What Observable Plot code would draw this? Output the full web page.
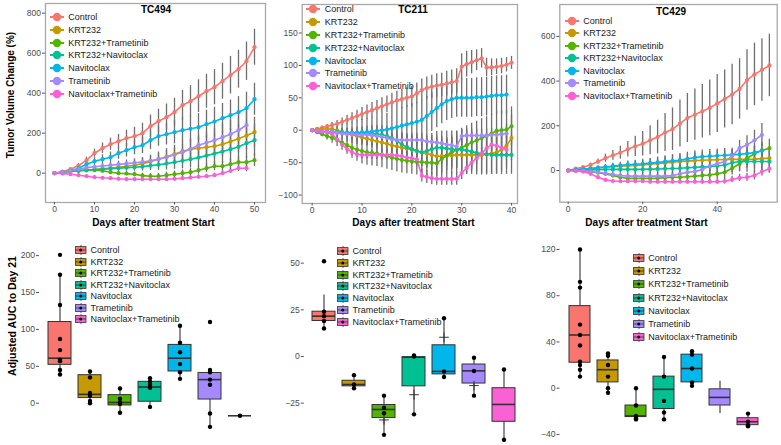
<!DOCTYPE html>
<html><head><meta charset="utf-8">
<script src="https://cdn.jsdelivr.net/npm/d3@7"></script>
<script src="https://cdn.jsdelivr.net/npm/@observablehq/plot@0.6"></script>
<style>
body{margin:0;background:#fff;font-family:"Liberation Sans",Arial,sans-serif;}
#root{position:relative;width:781px;height:445px;overflow:hidden;background:#fff}
</style></head><body><div id="root"></div>
<script>
// ---------- categories ----------
const groups = ["Control","KRT232","KRT232+Trametinib","KRT232+Navitoclax","Navitoclax","Trametinib","Navitoclax+Trametinib"];
const COLORS = ["#F8766D","#C49A00","#53B400","#00C094","#00B6EB","#A58AFF","#FB61D7"];

// ---------- TC494 growth (days every 2) ----------
const days494 = [0,2,4,6,8,10,12,14,16,18,20,22,24,26,28,30,32,34,36,38,40,42,44,46,48,50];
const ctl494 = [0,8,20,38,65,100,125,145,160,175,185,200,235,260,280,305,340,360,385,410,430,460,490,520,560,630];
const krt494 = [0,5,10,12,15,18,22,26,30,35,40,48,58,70,82,95,110,120,125,130,135,145,158,172,188,205];
const kt494  = [0,5,10,15,15,15,12,5,0,-2,-5,-12,-15,-15,-10,-5,0,5,15,25,35,35,45,55,55,65];
const kn494  = [0,5,10,12,15,18,20,22,25,28,30,33,38,42,48,55,62,70,78,88,98,108,120,132,150,165];
const nav494 = [0,5,12,25,45,60,70,80,100,115,130,140,165,185,195,205,215,222,230,245,258,275,290,305,325,370];
const tra494 = [0,5,12,20,28,32,36,40,44,48,52,56,62,70,80,92,105,120,140,152,165,180,195,215,240,null];
const nt494  = [0,-2,-5,-10,-15,-20,-23,-25,-28,-30,-30,-30,-30,-30,-30,-28,-25,-22,-18,-15,-10,0,12,25,25,null];
const ctl494E = [0,3,6,10,15,20,26,30,34,40,45,50,56,60,66,70,74,78,82,85,88,90,94,95,96,90];
const krt494E = [0,2,4,6,8,10,13,15,18,21,25,28,32,36,41,45,50,52,55,57,60,63,66,70,72,75];
const kt494E  = [0,2,3,4,5,6,7,8,9,10,11,12,13,14,15,16,17,18,20,21,22,24,26,28,30,32];
const kn494E  = [0,2,4,6,8,10,12,14,16,18,20,22,25,28,32,36,40,44,48,52,56,60,65,70,75,80];
const nav494E = [0,3,6,10,14,18,22,26,30,34,38,42,46,50,54,58,62,65,68,70,72,74,76,78,80,80];
const tra494E = [0,2,4,6,8,10,12,14,16,18,20,22,25,28,32,36,40,45,50,55,60,65,70,75,80,null];
const nt494E  = [0,1,2,3,4,5,6,7,8,9,10,10,10,10,10,10,10,10,10,10,10,12,14,16,18,null];

// ---------- TC211 growth (daily) ----------
const days211 = [0,1,2,3,4,5,6,7,8,9,10,11,12,13,14,15,16,17,18,19,20,21,22,23,24,25,26,27,28,29,30,31,32,33,34,35,36,37,38,39,40];
const ctl211 = [0,2,4,6,8,10,13,16,19,22,25,28,31,34,37,40,43,46,48,50,52,57,62,65,67,69,70,72,74,76,98,102,105,108,111,97,97,98,99,101,104];
const krt211 = [0,1,2,2,2,0,-3,-5,-7,-9,-11,-13,-15,-17,-19,-21,-23,-25,-27,-28,-30,-32,-34,-36,-38,-40,-40,-39,-39,-38,-38,-38,-38,-38,-38,-37,-36,-34,-30,-24,-12];
const kt211  = [0,-3,-6,-9,-12,-15,-19,-23,-27,-30,-32,-34,-35,-36,-38,-40,-42,-44,-46,-47,-48,-49,-49,-50,-50,-51,-44,-39,-34,-30,-27,-23,-19,-16,-12,-9,-5,-1,0,1,6];
const kn211  = [0,-1,-2,-2,-3,-3,-3,-4,-4,-4,-5,-5,-5,-6,-7,-9,-12,-16,-22,-26,-29,-32,-34,-32,-29,-27,-27,-28,-29,-30,-30,-31,-33,-35,-36,-37,-38,-38,-38,-38,-38];
const nav211 = [0,-1,-2,-3,-3,-4,-4,-4,-4,-4,-3,-3,-2,-1,0,1,3,5,7,9,11,13,16,22,28,34,40,45,48,50,50,50,50,51,51,52,53,54,54,55,null];
const tra211 = [0,-1,-2,-2,-3,-4,-5,-6,-6,-7,-7,-7,-8,-9,-10,-12,-14,-15,-15,-15,-15,-15,-15,-17,-18,-19,-20,-22,-23,-25,-9,-8,-8,-8,-8,-8,-7,-7,-6,-5,null];
const nt211  = [0,-1,-2,-3,-6,-14,-22,-29,-34,-37,-38,-38,-38,-38,-38,-38,-38,-39,-40,-42,-43,-45,-70,-72,-74,-75,-75,-75,-75,-75,-66,-58,-50,-43,-36,-28,-22,-24,-27,-30,null];
const ctl211E = [0,1,2,3,4,5,6,7,8,9,10,11,12,12,13,13,14,14,15,15,16,16,17,17,18,18,18,19,19,19,20,20,18,16,15,14,13,12,12,11,10];
const krt211E = [0,1,2,3,4,5,6,7,8,9,10,11,12,13,14,15,16,17,18,19,20,21,22,23,24,25,26,27,28,29,30,30,30,31,31,32,32,33,33,34,35];
const kt211E  = [0,2,4,6,8,10,12,14,16,18,20,20,20,20,20,20,20,20,20,20,20,20,20,20,20,20,22,24,26,28,30,30,30,30,30,30,30,30,30,30,30];
const kn211E  = [0,1,2,3,4,5,6,7,8,9,10,11,12,13,14,15,16,17,18,19,20,21,22,23,24,25,26,27,28,29,30,30,30,30,30,30,30,30,30,30,30];
const nav211E = [0,2,4,6,8,10,12,14,16,18,20,21,22,23,24,25,26,27,28,29,30,30,30,30,30,30,30,30,30,30,30,30,30,30,30,30,30,30,30,30,null];
const tra211E = [0,1,2,2,3,3,4,4,5,5,6,6,7,7,8,8,9,9,10,10,10,10,10,10,10,10,10,10,10,10,10,10,10,10,10,10,10,10,10,10,null];
const nt211E  = [0,1,2,2,3,3,4,4,5,5,6,6,7,7,8,8,9,9,10,10,10,10,10,10,10,10,10,10,10,10,10,10,10,10,10,10,10,10,10,10,null];

// ---------- TC429 growth (days every 2) ----------
const days429 = [0,2,4,6,8,10,12,14,16,18,20,22,24,26,28,30,32,34,36,38,40,42,44,46,48,50,52,54];
const ctl429 = [0,8,15,25,40,55,68,80,95,108,120,135,150,170,185,210,235,250,265,280,300,320,340,365,405,430,450,470];
const krt429 = [0,3,6,9,12,15,17,19,21,23,25,28,31,34,37,40,42,44,46,47,48,49,50,50,50,51,53,55];
const kt429  = [0,-1,-2,-5,-10,-15,-22,-30,-35,-35,-35,-35,-35,-32,-30,-30,-28,-25,-22,-20,-15,-8,10,30,55,75,90,100];
const kn429  = [0,1,2,3,4,5,5,5,5,5,5,6,7,8,9,10,12,14,16,18,20,25,35,40,40,40,40,40];
const nav429 = [0,3,6,9,12,16,20,23,26,28,30,33,36,40,43,46,52,58,62,64,66,68,70,72,76,80,88,null];
const tra429 = [0,-1,-2,-5,-8,-12,-18,-22,-25,-25,-25,-25,-25,-25,-22,-15,-8,-5,5,20,30,40,65,100,115,135,160,null];
const nt429  = [0,-2,-5,-15,-30,-42,-47,-48,-48,-48,-48,-50,-50,-50,-50,-50,-50,-50,-50,-50,-50,-48,-40,-33,-30,-22,-5,8];
const ctl429E = [0,3,5,8,12,18,22,28,35,45,55,65,75,85,95,105,110,115,120,125,130,130,135,135,135,140,140,140];
const krt429E = [0,2,4,6,8,10,12,14,16,18,20,22,24,26,28,30,32,34,36,38,40,40,40,40,40,40,40,40];
const kt429E  = [0,2,3,4,6,8,10,12,14,15,16,17,18,19,20,21,22,23,24,25,26,28,30,32,34,36,38,40];
const kn429E  = [0,2,4,6,8,10,12,14,16,18,20,22,24,26,28,30,32,34,36,38,40,42,44,46,48,50,50,50];
const nav429E = [0,2,4,6,8,10,12,14,16,18,20,22,24,26,28,30,30,30,30,30,30,30,30,30,30,30,30,null];
const tra429E = [0,2,3,4,6,8,10,12,14,15,16,17,18,19,20,21,22,23,24,25,26,28,30,35,40,45,50,null];
const nt429E  = [0,1,2,3,4,5,6,7,8,9,10,10,10,10,10,10,10,10,10,10,10,12,14,16,18,20,20,20];

// ---------- AUC boxplots ----------
const lo494 = [39,1,-13,-5,33,-32,-17];
const q1_494 = [52,7,-3,2,43,5,-17];
const med494 = [61,12,1,22,61,32,-17];
const q3_494 = [110,38,11,29,79,41,-17];
const hi494 = [174,43,20,35,105,45,-17];
const pts494 = [[201,174,133,87,72,59,57,45,39],[43,35,14,10,3,0],[20,6,1,-1,-13],[34,29,25,21,-5],[105,82,69,53,42,33],[110,45,42,32,25,-14,-32],[-17]];
const plus494 = [[],[],[],[],[],[],[]];

const lo211 = [15,-17,-42,-31,-11,-21,-45];
const q1_211 = [19,-16,-33,-16,-9.6,-14.5,-35];
const med211 = [21.6,-15,-28.4,-0.4,-8,-7.7,-25.7];
const q3_211 = [24,-13,-26,-0.4,6,-4.3,-17];
const hi211 = [33,-10,-21,1,20.5,-0.7,-7];
const pts211 = [[51,24,21.6,19,15],[-10,-15,-17],[-21,-27.5,-30.4,-42],[0.5,0,-31],[20.5,-8,-11],[-0.7,-7.8,-21],[-7,-44.6]];
const plus211 = [[],[],[-34],[-20.5],[10.3],[-15.6],[]];

const lo429 = [10,-4,-27,-27,2,-22,-32];
const q1_429 = [22,5,-25,-18,5,-15,-32];
const med429 = [46,16,-24,-1,17,-8,-29];
const q3_429 = [71,24,-15,10,29,-1,-26];
const hi429 = [120,30,0,27,32,6,-22];
const pts429 = [[120,92,87,55,46,37,23,20,16,10],[30,28,20,10,0,-4],[0,-15,-24,-26,-27],[27,10,-11,-21,-27],[32,29,17,5,2],[],[-22,-29,-32,-33]];
const plus429 = [[],[],[],[],[],[],[]];

// ---------- helpers ----------
const root = document.getElementById("root");
const FONT = "'Liberation Sans', Arial, sans-serif";
function mount(node, left, top) {
  node.style.position = "absolute"; node.style.left = left + "px"; node.style.top = top + "px";
  root.appendChild(node);
}
function label(text, x, y, size, opts = {}) {
  const d = document.createElement("div");
  d.textContent = text;
  const tx = opts.anchor === "start" ? "0" : "-50%";
  d.style.cssText = `position:absolute;left:${x}px;top:${y}px;font-family:${FONT};font-size:${size}px;font-weight:${opts.bold ? "bold" : "normal"};color:${opts.color || "#000"};white-space:nowrap;line-height:1;transform:translate(${tx},-50%)${opts.rotate ? " rotate(-90deg)" : ""};`;
  root.appendChild(d);
}
function svgEl(w, h, inner) {
  const s = document.createElementNS("http://www.w3.org/2000/svg", "svg");
  s.setAttribute("width", w); s.setAttribute("height", h);
  s.innerHTML = inner; return s;
}
function lineLegend(mx, y0, step) {
  groups.forEach((g, i) => {
    const y = y0 + i * step;
    mount(svgEl(16, 12, `<line x1="1" y1="6" x2="15" y2="6" stroke="${COLORS[i]}" stroke-width="2"/><circle cx="8" cy="6" r="4.2" fill="${COLORS[i]}"/>`), mx - 8, y - 6);
    label(g, mx + 11.5, y, 9, {anchor: "start", color: "#1a1a1a"});
  });
}
function boxLegend(kx, y0, step) {
  groups.forEach((g, i) => {
    const y = y0 + i * step;
    mount(svgEl(12, 10, `<line x1="6" y1="0" x2="6" y2="10" stroke="#333" stroke-width="0.8"/><rect x="0.5" y="1.6" width="10.5" height="6.8" fill="${COLORS[i]}" stroke="#333" stroke-width="0.8"/><line x1="0.5" y1="5" x2="11" y2="5" stroke="#333" stroke-width="0.8"/><circle cx="5.75" cy="5" r="1.5" fill="#000"/>`), kx - 5.75, y - 5);
    label(g, kx + 9.5, y, 9, {anchor: "start", color: "#1a1a1a"});
  });
}
function linePanel(o) {
  const rows = [];
  groups.forEach((g, k) => {
    o.days.forEach((d, i) => {
      const v = o.series[k][i];
      if (v == null) return;
      rows.push({day: d, value: v, err: o.errs[k][i] ?? 0, group: g});
    });
  });
  const p = Plot.plot({
    width: o.width, height: o.height,
    marginLeft: o.mL, marginRight: o.mR, marginTop: o.mT, marginBottom: o.mB,
    x: {domain: o.xDomain},
    y: {domain: o.yDomain},
    color: {domain: groups, range: COLORS},
    style: {fontFamily: FONT, fontSize: "8.5px", color: "#4d4d4d", background: "transparent", overflow: "visible"},
    marks: [
      Plot.ruleX(rows.filter(r => r.err > 0), {x: "day", y1: r => r.value - r.err, y2: r => r.value + r.err, stroke: "#6e6e6e", strokeWidth: 1.3}),
      Plot.line(rows, {x: "day", y: "value", stroke: "group", z: "group", strokeWidth: 1.6}),
      Plot.dot(rows, {x: "day", y: "value", fill: "group", r: 2.1}),
      Plot.frame({stroke: "#a8a8a8", strokeWidth: 1.3}),
      Plot.axisX({ticks: o.xTicks, tickSize: 2.5, tickPadding: 1, label: null, stroke: "#555"}),
      Plot.axisY({ticks: o.yTicks, tickSize: 3, tickPadding: 1.5, label: null, stroke: "#555"})
    ]
  });
  mount(p, o.left, o.top);
}
function boxPanel(o) {
  const boxes = groups.map((g, i) => ({group: g, lo: o.lo[i], q1: o.q1[i], med: o.med[i], q3: o.q3[i], hi: o.hi[i]}));
  const pts = [], plus = [];
  groups.forEach((g, i) => {
    o.pts[i].forEach(v => pts.push({group: g, value: v}));
    o.plus[i].forEach(v => plus.push({group: g, value: v}));
  });
  const p = Plot.plot({
    width: o.width, height: o.height,
    marginLeft: o.mL, marginRight: o.mR, marginTop: o.mT, marginBottom: o.mB,
    x: {type: "band", domain: groups, paddingInner: 0.25, paddingOuter: 0.225, axis: null},
    y: {domain: o.yDomain},
    color: {domain: groups, range: COLORS},
    style: {fontFamily: FONT, fontSize: "8.6px", color: "#4d4d4d", background: "transparent", overflow: "visible"},
    marks: [
      Plot.ruleX(boxes, {x: "group", y1: "lo", y2: "hi", stroke: "#333", strokeWidth: 1.1}),
      Plot.barY(boxes, {x: "group", y1: "q1", y2: "q3", fill: "group", stroke: "#333", strokeWidth: 1}),
      Plot.tickY(boxes, {x: "group", y: "med", stroke: "#333", strokeWidth: 1.6}),
      Plot.dot(plus, {x: "group", y: "value", symbol: "plus", stroke: "#333", r: 3.2, strokeWidth: 1}),
      Plot.dot(pts, {x: "group", y: "value", fill: "#000", r: 2.2}),
      Plot.axisY({ticks: o.yTicks, tickSize: 3, tickPadding: 1.5, label: null, stroke: "#555"})
    ]
  });
  mount(p, o.left, o.top);
}

// ---------- top row ----------
linePanel({days: days494, series: [ctl494, krt494, kt494, kn494, nav494, tra494, nt494],
  errs: [ctl494E, krt494E, kt494E, kn494E, nav494E, tra494E, nt494E],
  left: 0, top: 0, width: 270, height: 228, mL: 45, mR: 5, mT: 3, mB: 26,
  xDomain: [-2.25, 52.75], yDomain: [-146.5, 848.5], xTicks: [0,10,20,30,40,50], yTicks: [0,200,400,600,800]});
linePanel({days: days211, series: [ctl211, krt211, kt211, kn211, nav211, tra211, nt211],
  errs: [ctl211E, krt211E, kt211E, kn211E, nav211E, tra211E, nt211E],
  left: 260, top: 0, width: 265, height: 228, mL: 41.7, mR: 8, mT: 4, mB: 25,
  xDomain: [-2.0, 41.2], yDomain: [-113, 194], xTicks: [0,10,20,30,40], yTicks: [-100,-50,0,50,100,150]});
linePanel({days: days429, series: [ctl429, krt429, kt429, kn429, nav429, tra429, nt429],
  errs: [ctl429E, krt429E, kt429E, kn429E, nav429E, tra429E, nt429E],
  left: 520, top: 0, width: 261, height: 228, mL: 39.3, mR: 4.3, mT: 4, mB: 26.3,
  xDomain: [-2.25, 56.1], yDomain: [-141.8, 742.7], xTicks: [0,20,40], yTicks: [0,200,400,600]});

// ---------- bottom row ----------
boxPanel({lo: lo494, q1: q1_494, med: med494, q3: q3_494, hi: hi494, pts: pts494, plus: plus494,
  left: 0, top: 225, width: 265, height: 220, mL: 39, mR: 5.6, mT: 20.5, mB: 9.8,
  yDomain: [-44, 213], yTicks: [0,50,100,150,200]});
boxPanel({lo: lo211, q1: q1_211, med: med211, q3: q3_211, hi: hi211, pts: pts211, plus: plus211,
  left: 260, top: 225, width: 265, height: 220, mL: 43.8, mR: 2.8, mT: 26.1, mB: 0,
  yDomain: [-47.7, 56.2], yTicks: [-25,0,25,50]});
boxPanel({lo: lo429, q1: q1_429, med: med429, q3: q3_429, hi: hi429, pts: pts429, plus: plus429,
  left: 520, top: 225, width: 261, height: 220, mL: 39.5, mR: 14.2, mT: 15.2, mB: 10.4,
  yDomain: [-40.6, 127.6], yTicks: [-40,0,40,80,120]});

// ---------- texts ----------
label("TC494", 156, 10, 10, {bold: true});
label("TC211", 413, 10, 10, {bold: true});
label("TC429", 671, 12, 10, {bold: true});
label("Days after treatment Start", 153.5, 222.5, 10, {bold: true});
label("Days after treatment Start", 413.5, 222.5, 10, {bold: true});
label("Days after treatment Start", 646.5, 222.5, 10, {bold: true});
label("Tumor Volume Change (%)", 11, 95, 10, {bold: true, rotate: true});
label("Adjusted AUC to Day 21", 12, 316, 10.5, {bold: true, rotate: true});

// ---------- legends ----------
lineLegend(56.7, 16.7, 12.9);
lineLegend(313.3, 9.3, 12.8);
lineLegend(571.7, 20.7, 12.5);
boxLegend(81, 250, 11.5);
boxLegend(343, 251, 11.8);
boxLegend(638.7, 257.7, 13.27);
</script></body></html>
